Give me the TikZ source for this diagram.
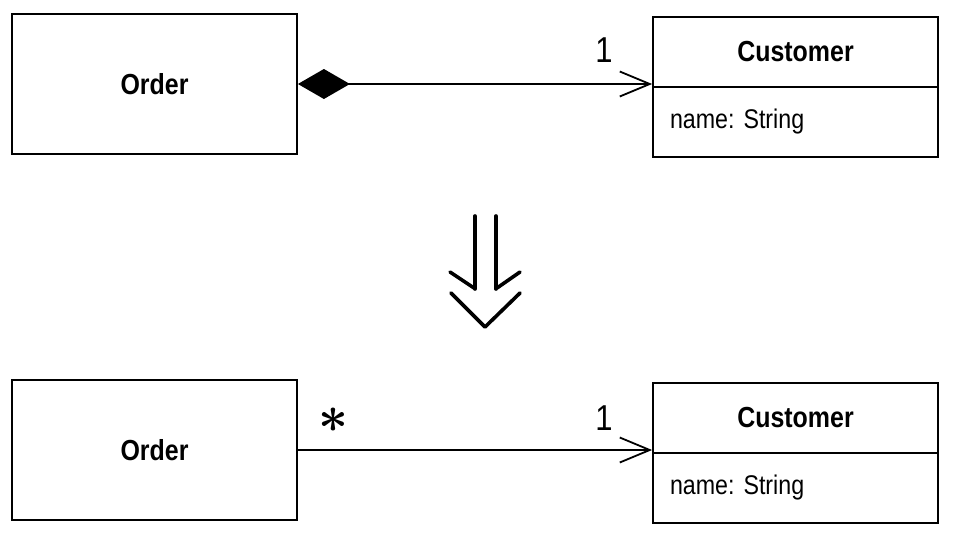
\documentclass[tikz,border=0pt]{standalone}
\usepackage{fontspec}
\setmainfont{Liberation Sans}
\newfontfamily\narrowsans[FakeStretch=0.86]{Liberation Sans}
\usetikzlibrary{arrows.meta}
\frenchspacing
\begin{document}
\begin{tikzpicture}[x=1pt,y=-1pt,
  classbox/.style={draw, line width=1.8pt, inner sep=0pt, minimum width=285pt, minimum height=140pt,
    font=\narrowsans\bfseries\fontsize{29}{31}\selectfont},
  headbox/.style={draw, line width=1.8pt, inner sep=0pt, minimum width=285pt, minimum height=70pt,
    font=\narrowsans\bfseries\fontsize{29}{31}\selectfont},
  attrbox/.style={draw, line width=1.8pt, inner sep=0pt, minimum width=285pt, minimum height=70pt,
    text width=251pt, align=left, font=\narrowsans\fontsize{27}{30}\selectfont},
  mult/.style={inner sep=0pt, font=\narrowsans\fontsize{36}{38}\selectfont},
  assoc/.style={line width=1.8pt},
  bigarrow/.style={line width=3.6pt, line cap=round, line join=round}
]
\useasboundingbox (0,0) rectangle (965,549);

% top: composition
\node[classbox] (o1) at (154.5,84) {Order};
\node[headbox] (c1h) at (795.5,52) {Customer};
\node[attrbox] (c1a) at (795.5,122) {\raisebox{-3pt}{name: String}};
\node[mult] (m1) at (604,50) {1};
\draw[assoc, {Diamond[length=52pt,width=30pt]}-{Straight Barb[length=30pt,width=25pt]}]
  (o1.east) -- (o1.east -| c1a.west);

% transformation arrow
\draw[bigarrow] (475,216) -- (475,289);
\draw[bigarrow] (496,216) -- (496,289);
\draw[bigarrow] (450,272) -- (474,288);
\draw[bigarrow] (497,288) -- (520,272);
\draw[bigarrow] (451,293) -- (485,327) -- (520,293);

% bottom: plain association
\node[classbox] (o2) at (154.5,450) {Order};
\node[headbox] (c2h) at (795.5,418) {Customer};
\node[attrbox] (c2a) at (795.5,488) {\raisebox{-3pt}{name: String}};
\node[mult] (m2) at (604,418) {1};
\node[inner sep=0pt] (m3) at (333,420) {\scalebox{5.2}{\boldmath$\ast$}};
\draw[assoc, -{Straight Barb[length=30pt,width=25pt]}]
  (o2.east) -- (o2.east -| c2a.west);
\end{tikzpicture}
\end{document}
